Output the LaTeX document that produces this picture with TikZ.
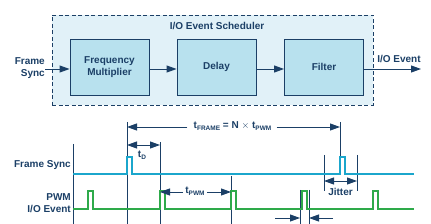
\documentclass[tikz,border=0pt]{standalone}
\usepackage{fontspec}
\setmainfont{Liberation Sans}
\usetikzlibrary{arrows.meta}
\definecolor{navy}{HTML}{1B3F66}
\definecolor{cyanw}{HTML}{1BA6CC}
\definecolor{greenw}{HTML}{2EAA4A}
\definecolor{bgblue}{HTML}{E1F1F8}
\definecolor{boxblue}{HTML}{B8E1EE}
\newcommand{\sbs}[1]{\raisebox{-2.2pt}{\fontsize{6.5}{7}\selectfont #1}}
\begin{document}
\begin{tikzpicture}[x=1pt,y=-1pt,
  every node/.style={font=\fontsize{10}{11.5}\selectfont\bfseries, text=navy, inner sep=0pt},
  blk/.style={draw=navy, line width=0.9pt, fill=boxblue, minimum width=79pt, minimum height=56pt, align=center},
  sched/.style={draw=navy, line width=0.9pt, dashed, dash pattern=on 4pt off 2.5pt, fill=bgblue, minimum width=321pt, minimum height=90pt},
  arr/.style={draw=navy, line width=0.9pt, -{Triangle[length=10pt,width=7pt]}},
  darr/.style={draw=navy, line width=0.9pt, {Triangle[length=10pt,width=7pt]}-{Triangle[length=10pt,width=7pt]}},
  mline/.style={draw=navy, line width=0.9pt},
  wave/.style={line width=1.1pt}]
\useasboundingbox (0,0) rectangle (431,224);
% top block diagram
\node[sched] (sch) at (212.5,60) {};
\node (title) at (217,26) {I/O Event Scheduler};
\node[blk] (fm) at (109.5,67) {Frequency\\[1pt]Multiplier};
\node[blk] (dl) at (216.5,67) {Delay};
\node[blk] (fl) at (324,67) {Filter};
\node[align=right, anchor=east] (fsl) at (45,68) {Frame\\[1pt]Sync};
\node (iol) at (399,59) {I/O Event};
\coordinate (fsin) at (45,69);
\coordinate (ioout) at (421,69);
\draw[arr] (fsin) -- (fm.west |- fsin);
\draw[arr] (fm.east |- fsin) -- (dl.west |- fsin);
\draw[arr] (dl.east |- fsin) -- (fl.west |- fsin);
\draw[arr] (fl.east |- ioout) -- (ioout);
% timing labels
\node[anchor=east] (lfs) at (71,165) {Frame Sync};
\node[anchor=east, align=right] (lpwm) at (71,203) {PWM\\[1pt]I/O Event};
% marker lines
\coordinate (ax1) at (73,144); \coordinate (ax2) at (73,224);
\draw[mline] (ax1) -- (ax2);
\coordinate (m1a) at (127,122); \coordinate (m1b) at (127,224);
\draw[mline] (m1a) -- (m1b);
\coordinate (m2a) at (160,142); \coordinate (m2b) at (160,224);
\draw[mline] (m2a) -- (m2b);
\coordinate (m3a) at (231,176); \coordinate (m3b) at (231,224);
\draw[mline] (m3a) -- (m3b);
\coordinate (m4a) at (340,122); \coordinate (m4b) at (340,158);
\draw[mline] (m4a) -- (m4b);
\coordinate (j1a) at (324,155); \coordinate (j1b) at (324,191);
\coordinate (j2a) at (357,155); \coordinate (j2b) at (357,191);
\draw[mline] (j1a) -- (j1b);
\draw[mline] (j2a) -- (j2b);
\coordinate (p1a) at (300,190); \coordinate (p1b) at (300,224);
\coordinate (p2a) at (309,190); \coordinate (p2b) at (309,224);
\draw[mline] (p1a) -- (p1b);
\draw[mline] (p2a) -- (p2b);
% waveforms
\draw[cyanw, wave] (73,174) -- (127,174) -- (127,157) -- (132,157) -- (132,174) -- (340,174) -- (340,157) -- (345,157) -- (345,174) -- (414,174);
\draw[greenw, wave] (73,209) -- (88,209) -- (88,191) -- (93,191) -- (93,209) -- (160,209) -- (160,191) -- (165,191) -- (165,209) -- (231,209) -- (231,191) -- (236,191) -- (236,209) -- (302,209) -- (302,191) -- (307,191) -- (307,209) -- (373,209) -- (373,191) -- (378,191) -- (378,209) -- (414,209);
% tFRAME
\node (tf) at (232.5,126) {t\sbs{FRAME} = N $\times$ t\sbs{PWM}};
\coordinate (tfl) at (127,127); \coordinate (tfr) at (340,127);
\draw[arr] (tf.west |- tfl) ++(-6,0) -- (tfl);
\draw[arr] (tf.east |- tfr) ++(5,0) -- (tfr);
% tD
\coordinate (tdl) at (127,145); \coordinate (tdr) at (160,145);
\draw[darr] (tdl) -- (tdr);
\node (td) at (142,155) {t\sbs{D}};
% tPWM
\node (tp) at (195,191) {t\sbs{PWM}};
\coordinate (tpl) at (160,192); \coordinate (tpr) at (231,192);
\draw[arr] (tp.west |- tpl) ++(-2,0) -- (tpl);
\draw[arr] (tp.east |- tpr) ++(2,0) -- (tpr);
% Jitter
\coordinate (jl) at (324,181); \coordinate (jr) at (357,181);
\draw[darr] (jl) -- (jr);
\node (jt) at (340.5,192) {Jitter};
% PWM jitter arrows
\coordinate (b1) at (275,218); \coordinate (b2) at (333,218);
\draw[arr] (b1) -- (p1b |- b1);
\draw[arr] (b2) -- (p2b |- b2);
\end{tikzpicture}
\end{document}
